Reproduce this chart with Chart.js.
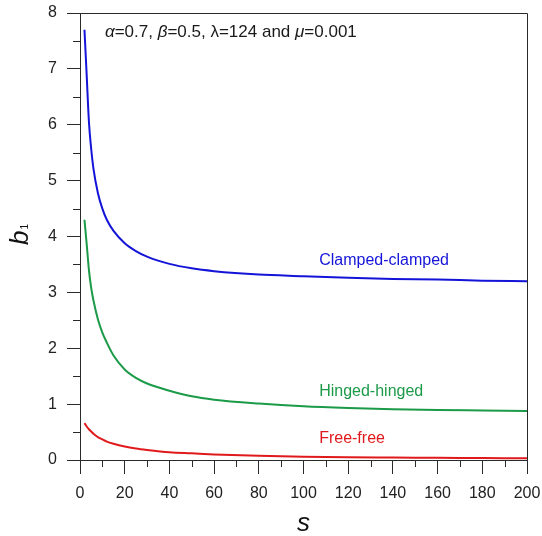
<!DOCTYPE html>
<html>
<head>
<meta charset="utf-8">
<script src="https://cdn.jsdelivr.net/npm/chart.js@4.4.1/dist/chart.umd.min.js"></script>
<style>
  html, body { margin: 0; padding: 0; background: #fff; }
  #wrap { width: 542px; height: 536px; }
</style>
</head>
<body>
<div id="wrap"><canvas id="b1chart"></canvas></div>
<script>
// spacing parameter s and the b1 coefficient for each boundary condition
const sValues   = [2, 3, 4, 5, 6, 8, 10, 12, 15, 20, 25, 30, 40, 50, 60, 80, 100, 120, 140, 160, 180, 200];
const clampedB1 = [7.70, 6.88, 6.05, 5.57, 5.22, 4.78, 4.50, 4.30, 4.10, 3.88, 3.74, 3.64, 3.51, 3.43, 3.38, 3.32, 3.29, 3.26, 3.24, 3.23, 3.21, 3.20];
const hingedB1  = [4.30, 3.86, 3.40, 3.08, 2.86, 2.52, 2.28, 2.10, 1.87, 1.62, 1.47, 1.37, 1.24, 1.14, 1.08, 1.01, 0.96, 0.93, 0.91, 0.895, 0.885, 0.875];
const freeB1    = [0.66, 0.60, 0.55, 0.51, 0.47, 0.41, 0.37, 0.33, 0.29, 0.24, 0.205, 0.18, 0.14, 0.12, 0.10, 0.075, 0.06, 0.05, 0.045, 0.04, 0.035, 0.03];

const seriesNames  = ["Clamped-clamped", "Hinged-hinged", "Free-free"];
const seriesColors = ["#1414d8", "#1b9a48", "#e0191c"];
// where each curve name sits, in data units (s, b1)
const seriesLabelAt = [[107, 3.57], [107, 1.23], [107, 0.375]];

const FONT = "'Liberation Sans', Arial, sans-serif";
const AXIS = "#2a2a2a";

const toPoints = (ys) => sValues.map((s, i) => ({ x: s, y: ys[i] }));

const extras = {
  id: "extras",
  afterDraw(chart) {
    const { ctx, chartArea: a, scales: { x, y } } = chart;
    ctx.save();

    // top and right frame + minor ticks
    ctx.strokeStyle = AXIS;
    ctx.lineWidth = 1;
    ctx.beginPath();
    ctx.moveTo(a.left, a.top + 0.5);
    ctx.lineTo(a.right + 0.5, a.top + 0.5);
    ctx.lineTo(a.right + 0.5, a.bottom);
    for (let v = 10; v < 200; v += 20) {
      const px = Math.round(x.getPixelForValue(v)) + 0.5;
      ctx.moveTo(px, a.bottom);
      ctx.lineTo(px, a.bottom + 7);
    }
    for (let v = 0.5; v < 8; v += 1) {
      const py = Math.round(y.getPixelForValue(v)) + 0.5;
      ctx.moveTo(a.left - 7, py);
      ctx.lineTo(a.left, py);
    }
    ctx.stroke();

    // curve names
    ctx.font = "16px " + FONT;
    ctx.textAlign = "left";
    ctx.textBaseline = "middle";
    seriesNames.forEach((name, i) => {
      ctx.fillStyle = seriesColors[i];
      ctx.fillText(name, x.getPixelForValue(seriesLabelAt[i][0]), y.getPixelForValue(seriesLabelAt[i][1]));
    });

    // parameter line at the top
    ctx.fillStyle = "#1a1a1a";
    ctx.textBaseline = "alphabetic";
    let cx = 105;
    const by = 37;
    const parts = [
      ["italic", "α"], ["", "=0.7, "], ["italic", "β"], ["", "=0.5, "],
      ["", "λ=124 and "], ["italic", "μ"], ["", "=0.001"]
    ];
    parts.forEach(([style, txt]) => {
      ctx.font = (style ? style + " " : "") + "17px " + FONT;
      ctx.fillText(txt, cx, by);
      cx += ctx.measureText(txt).width;
    });

    // axis titles
    ctx.fillStyle = "#111";
    ctx.font = "italic 26px " + FONT;
    ctx.textAlign = "center";
    ctx.fillText("s", (a.left + a.right) / 2, 531);

    ctx.translate(28, 245);
    ctx.rotate(-Math.PI / 2);
    ctx.textAlign = "left";
    ctx.font = "italic 26px " + FONT;
    ctx.fillText("b", 0, 0);
    const bw = ctx.measureText("b").width;
    ctx.font = "10px " + FONT;
    ctx.fillText("1", bw + 1, 0);

    ctx.restore();
  }
};

new Chart(document.getElementById("b1chart"), {
  type: "line",
  data: {
    datasets: [clampedB1, hingedB1, freeB1].map((ys, i) => ({
      label: seriesNames[i],
      data: toPoints(ys),
      borderColor: seriesColors[i],
      borderWidth: 2,
      pointRadius: 0,
      cubicInterpolationMode: "monotone",
      fill: false
    }))
  },
  options: {
    responsive: true,
    maintainAspectRatio: false,
    animation: false,
    layout: { padding: { top: 13, right: 15, left: 0, bottom: 0 } },
    plugins: { legend: { display: false }, tooltip: { enabled: false } },
    scales: {
      x: {
        type: "linear",
        min: 0,
        max: 200,
        afterFit: (s) => { s.height = 76; s.paddingLeft = 0; s.paddingRight = 0; },
        border: { display: true, color: AXIS, width: 1 },
        grid: { drawOnChartArea: false, drawTicks: true, tickLength: 14, color: AXIS },
        ticks: { stepSize: 20, padding: 10, color: "#222", maxRotation: 0, font: { family: FONT, size: 16 } }
      },
      y: {
        min: 0,
        max: 8,
        afterFit: (s) => { s.width = 80; s.paddingTop = 0; s.paddingBottom = 0; },
        border: { display: true, color: AXIS, width: 1 },
        grid: { drawOnChartArea: false, drawTicks: true, tickLength: 13, color: AXIS },
        ticks: { stepSize: 1, padding: 10, color: "#222", font: { family: FONT, size: 16 } }
      }
    }
  },
  plugins: [extras]
});
</script>
</body>
</html>
